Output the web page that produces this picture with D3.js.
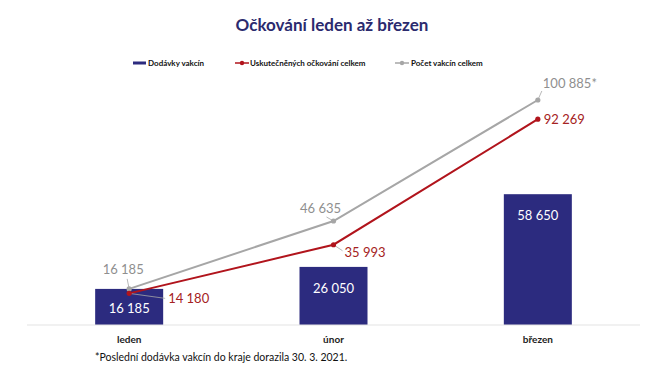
<!DOCTYPE html>
<html>
  <head>
    <meta charset="utf-8">
    <title>Očkování leden až březen</title>
    <script src="https://d3js.org/d3.v7.min.js"></script>
    <style>
      body, html {
        margin: 0;
        width: 100%;
        height: 100%;
        overflow: hidden;
        background: #fff;
      }
      svg { font-family: Lato, 'Open Sans', sans-serif; }
      .title { font-size: 17px; font-weight: bold; fill: #2b2a6e; }
      .legendText { font-size: 8px; font-weight: bold; fill: #111; }
      .catLabel { font-size: 10px; font-weight: bold; fill: #222; }
      .note { font-size: 10.5px; fill: #111; }
      .barLabel { font-size: 13px; fill: #fff; }
    </style>
  </head>
  <body>
    <svg id="chart" width="670" height="376"></svg>
    <script>
      const months = ["leden", "únor", "březen"];
      const deliveries = [16185, 26050, 58650];
      const vaccinated = [14180, 35993, 92269];
      const totalVaccines = [16185, 46635, 100885];
      const totalLabels = ["16 185", "46 635", "100 885*"];

      const fmt = v => d3.format(",")(v).replace(/,/g, " ");

      const navy = "#2c2b7f", red = "#b1141c", gray = "#a6a6a6";
      const svg = d3.select("#chart");

      const x = d3.scalePoint().domain(months).range([27, 640]).padding(0.5);
      const y = d3.scaleLinear().domain([0, 100885]).range([325, 100]);
      const barW = 68;

      svg.append("text").attr("class", "title")
        .attr("x", 332).attr("y", 31).attr("text-anchor", "middle")
        .text("Očkování leden až březen");

      // legend
      const lg = svg.append("g").attr("transform", "translate(0,63)");
      lg.append("rect").attr("x", 133).attr("y", -1.5).attr("width", 13).attr("height", 3).attr("fill", navy);
      lg.append("text").attr("class", "legendText").attr("x", 148).attr("y", 2.7).text("Dodávky vakcín");
      lg.append("line").attr("x1", 235).attr("x2", 249).attr("stroke", red).attr("stroke-width", 1.5);
      lg.append("circle").attr("cx", 242).attr("r", 2.2).attr("fill", red);
      lg.append("text").attr("class", "legendText").attr("x", 250).attr("y", 2.7).text("Uskutečněných očkování celkem");
      lg.append("line").attr("x1", 395).attr("x2", 409).attr("stroke", gray).attr("stroke-width", 1.5);
      lg.append("circle").attr("cx", 402).attr("r", 2.2).attr("fill", gray);
      lg.append("text").attr("class", "legendText").attr("x", 411).attr("y", 2.7).text("Počet vakcín celkem");

      // bars
      svg.append("g").selectAll("rect").data(deliveries).join("rect")
        .attr("x", (d, i) => x(months[i]) - barW / 2)
        .attr("y", d => y(d))
        .attr("width", barW)
        .attr("height", d => y(0) - y(d))
        .attr("fill", navy);

      svg.append("g").selectAll("text").data(deliveries).join("text")
        .attr("class", "barLabel")
        .attr("x", (d, i) => x(months[i]))
        .attr("y", d => Math.min(y(d) + 26, y(0) - 12))
        .attr("text-anchor", "middle")
        .text(d => fmt(d));

      // axis line
      svg.append("line").attr("x1", 27).attr("x2", 640).attr("y1", y(0)).attr("y2", y(0))
        .attr("stroke", "#e3e3e3").attr("stroke-width", 1);

      svg.append("g").selectAll("text").data(months).join("text")
        .attr("class", "catLabel")
        .attr("x", d => x(d)).attr("y", 343).attr("text-anchor", "middle")
        .text(d => d);

      const line = d3.line().x((d, i) => x(months[i])).y(d => y(d));

      // label offsets relative to points
      const grayOff = [[-6, -15], [-13, -8], [5, -12]];
      const redOff = [[39, 10], [11, 12], [6, 5]];

      function series(vals, color, offs, labels, textColor, anchor, leaders) {
        const g = svg.append("g");
        g.append("path").datum(vals).attr("d", line)
          .attr("fill", "none").attr("stroke", color).attr("stroke-width", 2);
        vals.forEach((v, i) => {
          const px = x(months[i]), py = y(v);
          const [dx, dy] = offs[i];
          if (leaders[i]) {
            g.append("line").attr("x1", px).attr("y1", py)
              .attr("x2", px + leaders[i][0]).attr("y2", py + leaders[i][1])
              .attr("stroke", gray).attr("stroke-width", 0.8);
          }
          g.append("circle").attr("cx", px).attr("cy", py).attr("r", 2.6).attr("fill", color);
          g.append("text")
            .attr("x", px + dx).attr("y", py + dy)
            .attr("text-anchor", anchor[i])
            .attr("font-size", 13).attr("fill", textColor)
            .text(labels[i]);
        });
      }

      series(totalVaccines, gray, grayOff, totalLabels, "#8f8f8f",
        ["middle", "middle", "start"], [[-2, -10], [-7, -4], [4, -9]]);
      series(vaccinated, red, redOff, vaccinated.map(fmt), "#a52222",
        ["start", "start", "start"], [[36, 5], [9, 6], null]);

      svg.append("text").attr("class", "note")
        .attr("x", 95).attr("y", 361)
        .text("*Poslední dodávka vakcín do kraje dorazila 30. 3. 2021.");
    </script>
  </body>
</html>
